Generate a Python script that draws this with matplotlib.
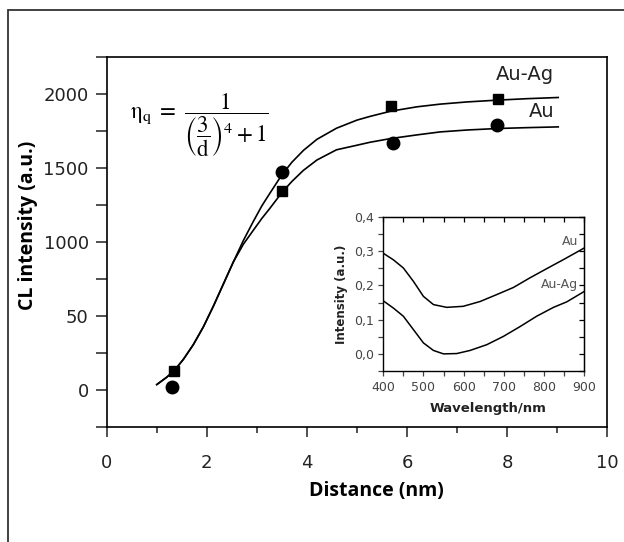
import matplotlib
matplotlib.use("Agg")
import matplotlib.pyplot as plt
from matplotlib.patches import Rectangle
from matplotlib.ticker import MultipleLocator, FixedLocator, FixedFormatter

plt.rcParams['font.family'] = ['DejaVu Sans']
plt.rcParams['mathtext.fontset'] = 'stix'

# measured points
dist_auag = [1.35, 3.51, 5.67, 7.82]
cl_auag = [125, 1346, 1921, 1969]
dist_au = [1.30, 3.50, 5.71, 7.80]
cl_au = [16, 1477, 1673, 1795]

# fitted curves
fit_x_auag = [1.00, 1.20, 1.35, 1.53, 1.73, 1.93, 2.13, 2.33, 2.53, 2.73, 2.93, 3.10,
              3.26, 3.50, 3.70, 3.93, 4.20, 4.59, 5.00, 5.26, 5.67, 6.20, 6.66, 7.20,
              7.80, 8.40, 9.02]
fit_y_auag = [35, 85, 130, 205, 305, 425, 565, 715, 865, 1010, 1140, 1245,
              1330, 1455, 1540, 1620, 1695, 1770, 1825, 1850, 1885, 1915, 1933, 1948,
              1960, 1970, 1978]
fit_x_au = [1.00, 1.20, 1.35, 1.53, 1.73, 1.93, 2.13, 2.33, 2.53, 2.73, 2.93, 3.10,
            3.26, 3.50, 3.70, 3.93, 4.20, 4.59, 5.00, 5.26, 5.67, 6.20, 6.66, 7.20,
            7.80, 8.40, 9.02]
fit_y_au = [35, 85, 130, 205, 305, 425, 565, 715, 865, 985, 1080, 1160,
            1228, 1335, 1410, 1485, 1555, 1624, 1655, 1675, 1700, 1725, 1745, 1758,
            1768, 1774, 1779]

# inset spectra
wl_au = [400, 425, 450, 475, 500, 525, 558, 599, 641, 682, 724, 765, 807, 848, 900]
int_au = [0.294, 0.275, 0.251, 0.212, 0.168, 0.144, 0.136, 0.139, 0.153, 0.173,
          0.194, 0.222, 0.249, 0.275, 0.309]
wl_auag = [400, 425, 450, 475, 500, 525, 550, 583, 616, 658, 699, 741, 782, 824, 857, 900]
int_auag = [0.155, 0.134, 0.110, 0.071, 0.032, 0.010, 0.000, 0.001, 0.010, 0.027,
            0.051, 0.080, 0.110, 0.136, 0.152, 0.182]

y_ticks = [0, 500, 1000, 1500, 2000]
y_ticklabels = ["0", "50", "1000", "1500", "2000"]
x_ticks = [0, 2, 4, 6, 8, 10]
in_xticks = [400, 500, 600, 700, 800, 900]
in_yticks = [0.0, 0.1, 0.2, 0.3, 0.4]
in_yticklabels = ["0,0", "0,1", "0,2", "0,3", "0,4"]

W, H = 624, 542
fig = plt.figure(figsize=(W / 100, H / 100), dpi=100)

# outer frame (cropped on right and bottom)
fig.patches.append(Rectangle((8 / W, -0.2), 1.5, 1 - 10 / H + 0.2,
                             transform=fig.transFigure, fill=False,
                             edgecolor='#333333', linewidth=1.3))

# main axes
ax = fig.add_axes([106.7 / W, 1 - 426.7 / H, (607.3 - 106.7) / W, (426.7 - 57.3) / H])
ax.plot(fit_x_auag, fit_y_auag, color='black', lw=1.2)
ax.plot(fit_x_au, fit_y_au, color='black', lw=1.2)
ax.plot(dist_auag, cl_auag, 's', color='black', ms=7.5)
ax.plot(dist_au, cl_au, 'o', color='black', ms=9)

ax.set_xlim(0, 10)
ax.set_ylim(-250, 2250)
ax.set_xticks(x_ticks)
ax.xaxis.set_minor_locator(MultipleLocator(1))
ax.set_yticks(y_ticks)
ax.set_yticklabels(y_ticklabels)
ax.yaxis.set_minor_locator(MultipleLocator(250))
ax.tick_params(axis='both', which='both', direction='out', width=1.1,
               colors='#222222', labelsize=13)
ax.tick_params(axis='x', which='major', length=7, pad=13)
ax.tick_params(axis='x', which='minor', length=4)
ax.tick_params(axis='y', which='both', length=8, pad=5)
for s in ax.spines.values():
    s.set_linewidth(1.2)

ax.set_xlabel("Distance (nm)", fontsize=14, fontweight='bold',
              family=['Open Sans', 'DejaVu Sans'])
ax.xaxis.set_label_coords((376.7 - 106.7) / 500.6, -0.148)
ax.set_ylabel("CL intensity (a.u.)", fontsize=14, fontweight='bold',
              family=['Open Sans', 'DejaVu Sans'])
ax.yaxis.set_label_coords((37.5 - 106.7) / 500.6, 0.544)

ax.text(8.94, 2131, "Au-Ag", ha='right', va='center', fontsize=14, color='#222222')
ax.text(8.94, 1883, "Au", ha='right', va='center', fontsize=14, color='#222222')

# quantum efficiency model shown on the chart
fig.text(130 / W, 1 - 125 / H,
         r'$\mathrm{η}_{\mathrm{q}}\ =\ \dfrac{1}{\left(\dfrac{3}{\mathrm{d}}\right)^4+1}$',
         ha='left', va='center', fontsize=16.5)

# inset
ins = fig.add_axes([383.3 / W, 1 - 371 / H, (584 - 383.3) / W, (371 - 217) / H])
ins.plot(wl_au, int_au, color='black', lw=1.1)
ins.plot(wl_auag, int_auag, color='black', lw=1.1)
ins.set_xlim(400, 900)
ins.set_ylim(-0.05, 0.4)
ins.set_xticks(in_xticks)
ins.xaxis.set_minor_locator(MultipleLocator(50))
ins.yaxis.set_major_locator(FixedLocator(in_yticks))
ins.yaxis.set_major_formatter(FixedFormatter(in_yticklabels))
ins.yaxis.set_minor_locator(MultipleLocator(0.05))
ins.tick_params(axis='both', which='both', direction='out', length=3.5, width=0.9,
                colors='#444444', labelsize=9)
ins.tick_params(axis='x', which='major', pad=4)
ins.tick_params(axis='y', which='major', pad=3)
for s in ins.spines.values():
    s.set_linewidth(1.0)

top = ins.secondary_xaxis('top')
top.set_xticks(in_xticks)
top.xaxis.set_minor_locator(MultipleLocator(50))
top.tick_params(axis='x', which='both', direction='in', length=3.5, width=0.9,
                labeltop=False)
right = ins.secondary_yaxis('right')
right.set_yticks(in_yticks)
right.yaxis.set_minor_locator(MultipleLocator(0.05))
right.tick_params(axis='y', which='both', direction='in', length=3.5, width=0.9,
                  labelright=False)

ins.set_xlabel("Wavelength/nm", fontsize=9.5, fontweight='bold', color='#222222')
ins.xaxis.set_label_coords((488 - 383.3) / 200.7, -0.2)
ins.set_ylabel("Intensity (a.u.)", fontsize=8.5, fontweight='bold', color='#222222')
ins.yaxis.set_label_coords((348 - 383.3) / 200.7, 0.5)

ins.text(885.0, 0.327, "Au", ha='right', va='center', fontsize=9, color='#555555')
ins.text(885.0, 0.203, "Au-Ag", ha='right', va='center', fontsize=9, color='#555555')

fig.savefig("out.png", dpi=100)
